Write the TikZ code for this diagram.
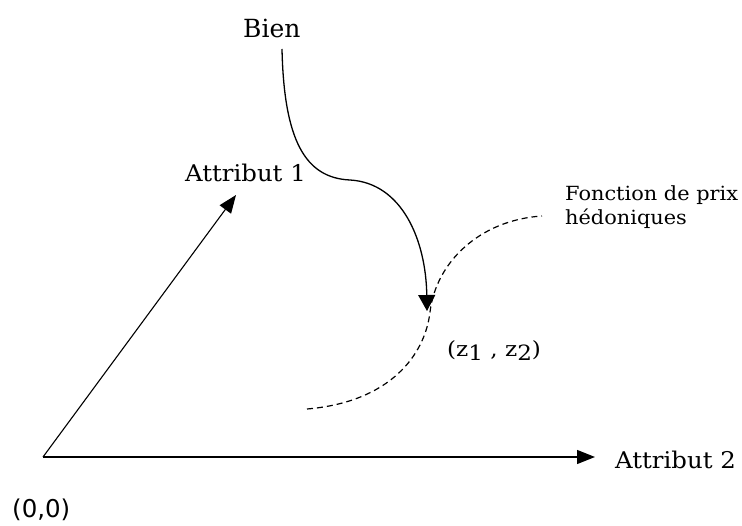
\documentclass[tikz,border=0pt]{standalone}
\usepackage{fontspec}
\usepackage{graphicx}
\setmainfont{DejaVu Serif}
\newfontfamily\originfont{DejaVu Sans}
\usetikzlibrary{arrows.meta}
\begin{document}
\begin{tikzpicture}[x=1pt,y=-1pt,
  axis/.style={line width=1.4pt,-{Triangle[length=18pt,width=14pt]}},
  curvearrow/.style={line width=1.3pt,-{Triangle[length=16pt,width=17pt]}},
  pricecurve/.style={line width=1.2pt,dash pattern=on 6pt off 4pt},
  lbl/.style={inner sep=0pt,anchor=base west}]
\useasboundingbox (0,0) rectangle (742,526);
\coordinate (O) at (43,457);
\coordinate (A2) at (595,457);
\coordinate (A1) at (236,195);
\coordinate (start) at (282,49);
\coordinate (mid) at (350,180);
\coordinate (tip) at (427,311);
\coordinate (p0) at (307,409);
\coordinate (p1) at (430,312);
\coordinate (p2) at (542,216);
\draw[axis] (O) -- (A2);
\draw[axis,line width=1.1pt] (O) -- (A1);
\draw[pricecurve] (p0) .. controls (390,402) and (425,355) .. (p1) .. controls (436,262) and (480,220) .. (p2);
\draw[curvearrow] (start) .. controls (284,140) and (305,178) .. (mid) .. controls (402,183) and (426,240) .. (tip);
\node[lbl,font=\fontsize{25}{28}\selectfont] (bien) at (243,38) {Bien};
\node[lbl,font=\fontsize{23}{26}\selectfont] (att1) at (185,182) {\scalebox{1.06}[1]{Attribut 1}};
\node[lbl,font=\fontsize{23}{26}\selectfont] (att2) at (615,469) {\scalebox{1.06}[1]{Attribut 2}};
\node[lbl,font=\fontsize{19.5}{22}\selectfont] (fonc) at (565,201) {\scalebox{1.07}[1]{Fonction de prix}};
\node[lbl,font=\fontsize{19.5}{22}\selectfont] (hedo) at (565,225) {\scalebox{1.07}[1]{hédoniques}};
\node[lbl,font=\fontsize{21}{24}\selectfont] (z) at (447,357) {\scalebox{1.1}[1]{(z\raisebox{-0.35ex}{1} , z\raisebox{-0.35ex}{2})}};
\node[lbl,font=\originfont\fontsize{24.5}{27}\selectfont] (orig) at (12,517) {(0,0)};
\end{tikzpicture}
\end{document}
